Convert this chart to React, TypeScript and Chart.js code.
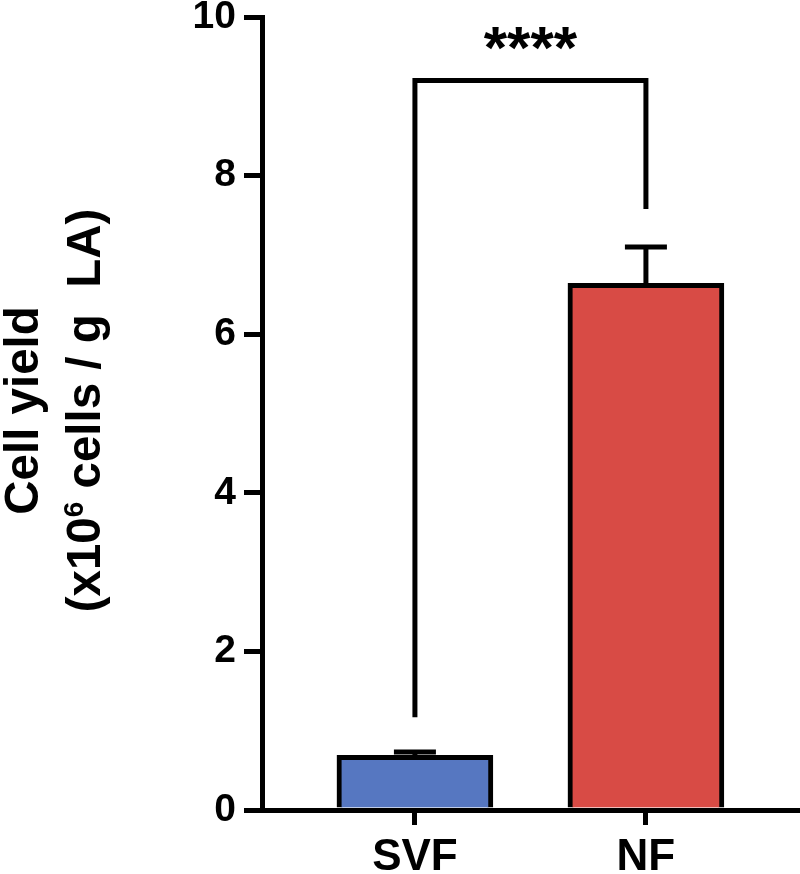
import React, { useEffect, useRef } from 'react';
import { Chart, registerables } from 'chart.js';

Chart.register(...registerables);

const categories = ['SVF', 'NF'];
const means = [0.69, 6.64];
const errorsUp = [0.04, 0.46];
const barColors = ['#5677c1', '#d84b45'];
const yTickValues = [0, 2, 4, 6, 8, 10];
const sigLabel = '****';
const bracketLegEnds = [1.17, 7.58];
const bracketTopValue = 9.2;
const yTitleLine1 = 'Cell yield';
const yTitleLine2 = ['(x10', '6', ' cells / g  LA)'];

const FONT = '"Liberation Sans", Arial, Helvetica, sans-serif';

const overlayPlugin = {
  id: 'overlay',
  afterDatasetsDraw(chart: any) {
    const { ctx, scales } = chart;
    const x = scales.x;
    const y = scales.y;
    ctx.save();
    ctx.strokeStyle = '#000';
    ctx.lineWidth = 5;
    ctx.lineCap = 'butt';
    ctx.lineJoin = 'miter';
    means.forEach((m, i) => {
      const cx = x.getPixelForValue(i);
      const base = y.getPixelForValue(m);
      const top = y.getPixelForValue(m + errorsUp[i]);
      ctx.beginPath();
      ctx.moveTo(cx, base);
      ctx.lineTo(cx, top);
      ctx.stroke();
      ctx.beginPath();
      ctx.moveTo(cx - 21, top);
      ctx.lineTo(cx + 21, top);
      ctx.stroke();
    });
    const xl = x.getPixelForValue(0);
    const xr = x.getPixelForValue(1);
    const yt = y.getPixelForValue(bracketTopValue);
    ctx.beginPath();
    ctx.moveTo(xl, y.getPixelForValue(bracketLegEnds[0]));
    ctx.lineTo(xl, yt);
    ctx.lineTo(xr, yt);
    ctx.lineTo(xr, y.getPixelForValue(bracketLegEnds[1]));
    ctx.stroke();
    ctx.fillStyle = '#000';
    ctx.font = `bold 60px ${FONT}`;
    ctx.textAlign = 'center';
    ctx.textBaseline = 'alphabetic';
    ctx.fillText(sigLabel, (xl + xr) / 2, yt - 12);
    ctx.restore();
  },
  afterDraw(chart: any) {
    const { ctx, chartArea } = chart;
    const cy = (chartArea.top + chartArea.bottom) / 2 - 3;
    ctx.save();
    ctx.fillStyle = '#000';
    ctx.textBaseline = 'alphabetic';
    // line 1
    ctx.save();
    ctx.translate(38, cy);
    ctx.rotate(-Math.PI / 2);
    ctx.font = `bold 47.5px ${FONT}`;
    ctx.textAlign = 'center';
    ctx.fillText(yTitleLine1, 0, 0);
    ctx.restore();
    // line 2 with superscript
    ctx.save();
    ctx.translate(100, cy);
    ctx.rotate(-Math.PI / 2);
    ctx.textAlign = 'left';
    const big = `bold 47.5px ${FONT}`;
    const small = `bold 28px ${FONT}`;
    ctx.font = big;
    const w1 = ctx.measureText(yTitleLine2[0]).width;
    const w3 = ctx.measureText(yTitleLine2[2]).width;
    ctx.font = small;
    const w2 = ctx.measureText(yTitleLine2[1]).width;
    let sx = -(w1 + w2 + w3) / 2;
    ctx.font = big;
    ctx.fillText(yTitleLine2[0], sx, 0);
    sx += w1;
    ctx.font = small;
    ctx.fillText(yTitleLine2[1], sx, -17);
    sx += w2;
    ctx.font = big;
    ctx.fillText(yTitleLine2[2], sx, 0);
    ctx.restore();
    ctx.restore();
  },
};

export default function App() {
  const canvasRef = useRef<HTMLCanvasElement | null>(null);

  useEffect(() => {
    if (!canvasRef.current) return;
    const chart = new Chart(canvasRef.current, {
      type: 'bar',
      data: {
        datasets: [
          {
            data: means.map((v, i) => ({ x: i, y: v })),
            backgroundColor: barColors,
            borderColor: '#000',
            borderWidth: 5,
            barThickness: 156,
          } as any,
        ],
      },
      options: {
        responsive: false,
        animation: false,
        layout: { padding: 0 },
        plugins: {
          legend: { display: false },
          tooltip: { enabled: false },
        },
        scales: {
          x: {
            type: 'linear',
            min: -0.662,
            max: 1.667,
            offset: false,
            afterBuildTicks: (s: any) => {
              s.ticks = categories.map((_, i) => ({ value: i }));
            },
            ticks: {
              autoSkip: false,
              maxRotation: 0,
              color: '#000',
              padding: 6,
              font: { family: FONT, size: 44, weight: 'bold' },
              callback: (v: any) => categories[Number(v)] ?? '',
            },
            grid: {
              display: true,
              offset: false,
              drawOnChartArea: false,
              drawTicks: true,
              tickLength: 15,
              lineWidth: 5,
              color: '#000',
            },
            border: { display: true, width: 5, color: '#000' },
            afterFit: (s: any) => {
              s.height = 64;
              s.paddingLeft = 0;
              s.paddingRight = 0;
            },
          },
          y: {
            type: 'linear',
            min: 0,
            max: 10,
            afterBuildTicks: (s: any) => {
              s.ticks = yTickValues.map((v) => ({ value: v }));
            },
            ticks: {
              color: '#000',
              padding: 8,
              font: { family: FONT, size: 39, weight: 'bold' },
              callback: (v: any) => String(v),
            },
            grid: {
              display: true,
              drawOnChartArea: false,
              drawTicks: true,
              tickLength: 18,
              lineWidth: 5,
              color: '#000',
            },
            border: { display: true, width: 5, color: '#000' },
            afterFit: (s: any) => {
              s.width = 262;
              s.paddingTop = 17;
              s.paddingBottom = 0;
            },
          },
        },
      } as any,
      plugins: [overlayPlugin],
    });
    return () => chart.destroy();
  }, []);

  return (
    <div style={{ position: 'absolute', left: 0, top: 0, width: 800, height: 874, background: '#fff' }}>
      <canvas ref={canvasRef} width={800} height={874} style={{ display: 'block' }} />
    </div>
  );
}
